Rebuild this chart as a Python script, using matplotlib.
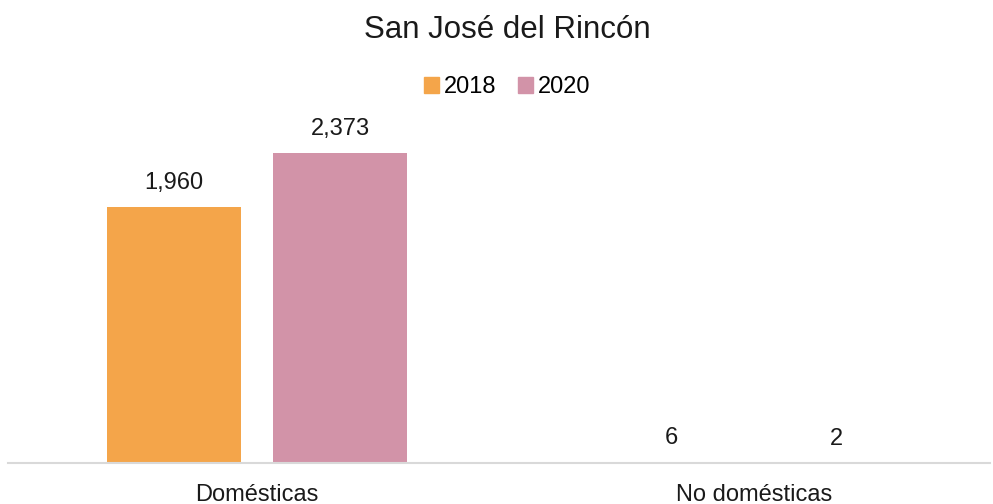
import matplotlib

matplotlib.use("Agg")
import matplotlib.pyplot as plt
from matplotlib.patches import Patch

plt.rcParams["font.family"] = ["Liberation Sans", "DejaVu Sans"]

# data
categories = ["Domésticas", "No domésticas"]
years = ["2018", "2020"]
values_2018 = [1960, 6]
values_2020 = [2373, 2]
colors = ["#F4A54A", "#D293A8"]

fig = plt.figure(figsize=(9.93, 5.04), dpi=100)
ax = fig.add_axes([8 / 993, 41 / 504, 982 / 993, 343 / 504])

x = range(len(categories))
w = 0.27
off = 0.167
series = [values_2018, values_2020]
for i, (vals, c) in enumerate(zip(series, colors)):
    pos = [xi + (-off if i == 0 else off) for xi in x]
    bars = ax.bar(pos, vals, width=w, color=c)
    for b, v in zip(bars, vals):
        ax.annotate(f"{v:,}", (b.get_x() + b.get_width() / 2, v),
                    xytext=(0, 13), textcoords="offset points",
                    ha="center", va="baseline", fontsize=17, color="#1a1a1a")

ax.set_xlim(-0.501, 1.475)
ax.set_ylim(0, 2626)
ax.set_xticks(list(x))
ax.set_xticklabels(categories, fontsize=17, color="#1a1a1a")
ax.tick_params(axis="x", length=0, pad=15)
ax.set_yticks([])
for s in ["top", "right", "left"]:
    ax.spines[s].set_visible(False)
ax.spines["bottom"].set_color("#D9D9D9")
ax.spines["bottom"].set_linewidth(1.5)

fig.text(507 / 993, 1 - 38 / 504, "San José del Rincón", ha="center",
         va="baseline", fontsize=22.5, color="#1a1a1a")

handles = [Patch(color=c, label=y) for c, y in zip(colors, years)]
fig.legend(handles=handles, loc="center", bbox_to_anchor=(507 / 993, 1 - 87 / 504),
           ncol=2, frameon=False, fontsize=17, handlelength=0.65, handleheight=0.65,
           handletextpad=0.2, columnspacing=0.9, borderpad=0)

fig.savefig("out.png", dpi=100)
